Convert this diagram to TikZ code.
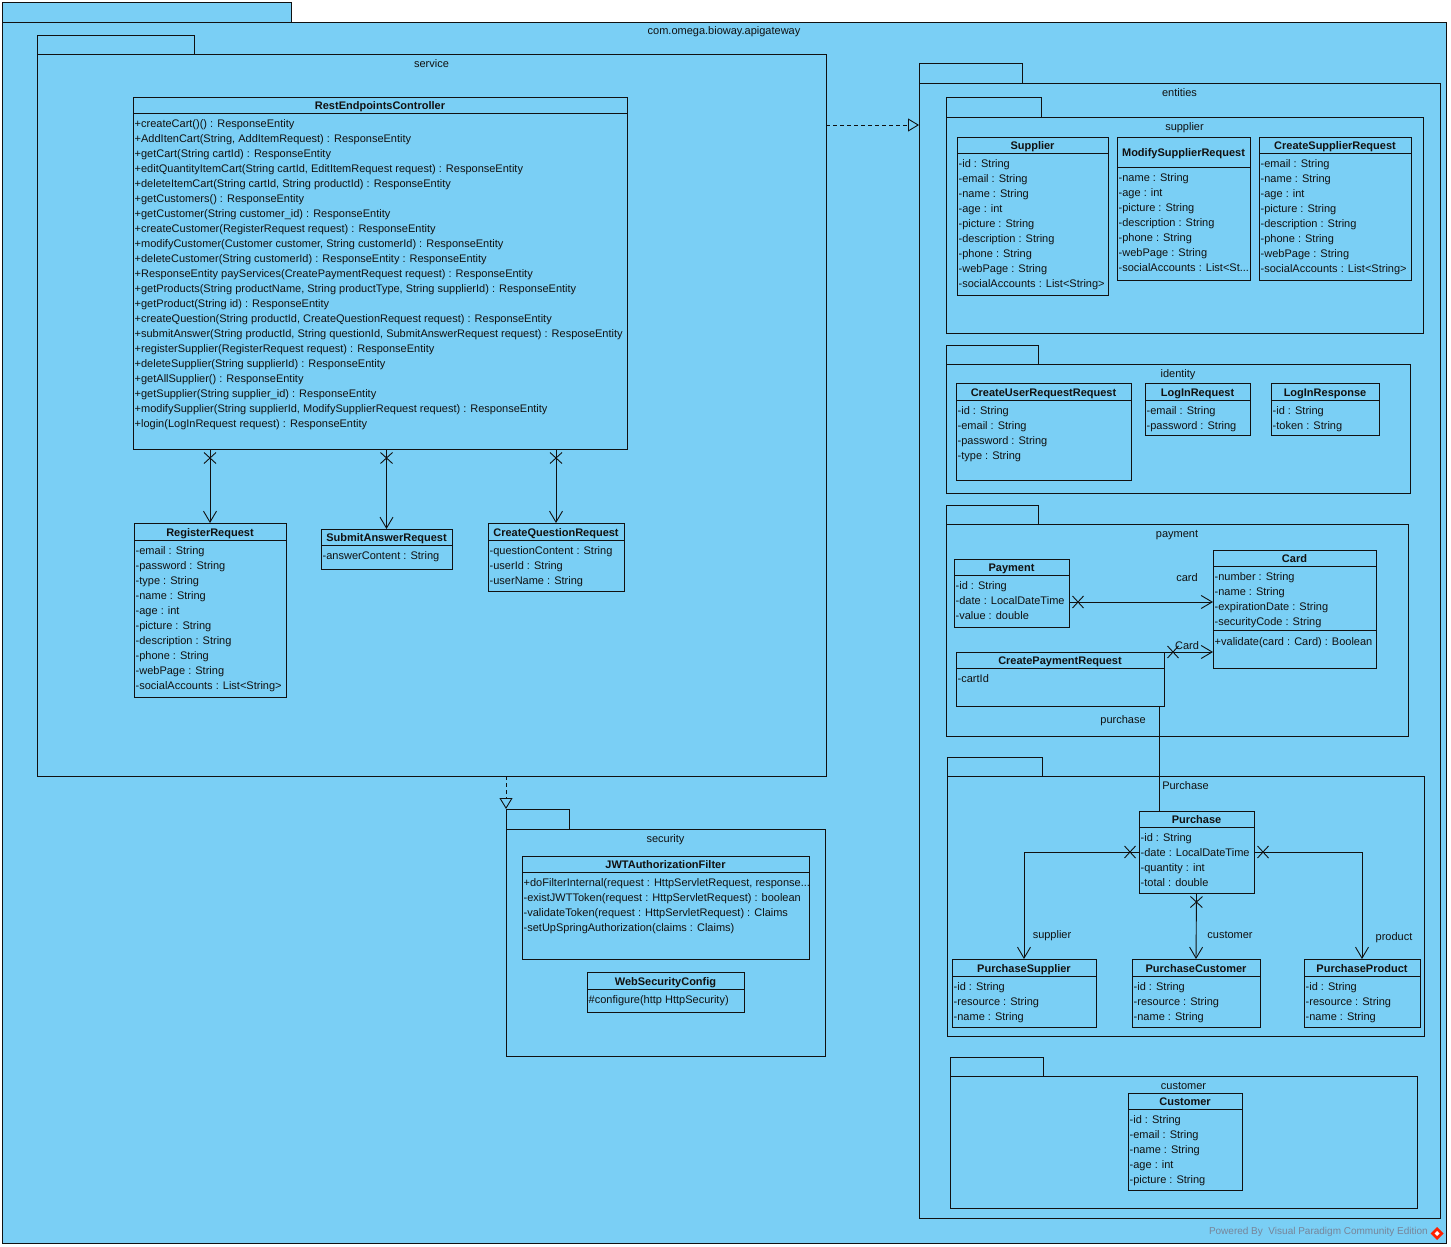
\documentclass[tikz,border=0pt]{standalone}
\usepackage{fontspec}
\setmainfont{Liberation Sans}
\usetikzlibrary{arrows.meta,fit,decorations.markings}

\definecolor{pkgblue}{RGB}{122,207,245}
\definecolor{ink}{RGB}{17,17,17}
\definecolor{footgray}{RGB}{120,132,152}

% three full stops, kept inside a macro so \foreach does not read them as a range
\newcommand{\tdots}{...}

\tikzset{
  base/.style={draw=ink, line width=0.9pt},
  pkgshape/.style={base, fill=pkgblue, inner sep=0pt, outer sep=0pt},
  classshape/.style={base, fill=pkgblue, inner sep=0pt, outer sep=0pt},
  txt/.style={inner sep=0pt, text=ink, font=\fontsize{11}{13}\selectfont},
  ttl/.style={inner sep=0pt, text=ink, font=\fontsize{11}{13}\selectfont\bfseries},
  assoc/.style={base, -{Straight Barb[length=11pt,width=13pt,line width=0.9pt]},
    postaction={decorate},
    decoration={markings, mark=at position 9pt with
      {\draw[ink, line width=0.9pt, -] (-5.5pt,-6pt) -- (5.5pt,6pt) (-5.5pt,6pt) -- (5.5pt,-6pt);}}},
  dep/.style={base, dash pattern=on 4pt off 3pt,
    -{Triangle[open, length=11pt, width=13pt, line width=0.9pt]}},
  link/.style={base},
}

% class box: name, x1, y1, x2, y2, y of header rule, title, compartment lines
\newcommand{\umlclass}[8]{%
  \node[classshape, fit={(#2,#3)(#4,#5)}] (#1) {};
  \draw[base] (#2,#6) -- (#4,#6);
  \node[ttl, anchor=base] (#1-title) at ({(#2+#4)/2},{(#3+#6)/2+4.5}) {#7};
  \foreach \attrline [count=\k from 0] in {#8} {
    \node[txt, anchor=base west] at ({#2+1.5},{#6+14.7+15*\k}) {\attrline};
  }
}

% package: name, x1, tab top, tab right, body top, x2, y2, label
\newcommand{\umlpkg}[8]{%
  \node[pkgshape, fit={(#2,#3)(#4,#5)}] (#1tab) {};
  \node[pkgshape, fit={(#2,#5)(#6,#7)}] (#1) {};
  \node[txt, anchor=base] (#1-label) at ({(#2+#6)/2},{#5+13}) {#8};
}

\begin{document}
\begin{tikzpicture}[x=1pt, y=-1pt]
\useasboundingbox (0,0) rectangle (1451,1247);
\fill[white] (0,0) rectangle (1451,1247);

% ---------- packages ----------
\umlpkg{root}{2}{2}{291}{22}{1446}{1243}{com.omega.bioway.apigateway}
\umlpkg{svc}{37}{35}{194}{54}{826}{776}{service}
\umlpkg{sec}{506}{809}{569}{829}{825}{1056}{security}
\umlpkg{ent}{919}{63}{1022}{83}{1440}{1218}{entities}
\umlpkg{psup}{946}{97}{1041}{117}{1423}{333}{supplier}
\umlpkg{pid}{946}{345}{1038}{364}{1410}{493}{identity}
\umlpkg{ppay}{946}{505}{1038}{524}{1408}{736}{payment}
\umlpkg{ppur}{947}{757}{1042}{776}{1424}{1036}{Purchase}
\umlpkg{pcus}{950}{1057}{1043}{1076}{1417}{1208}{customer}

% ---------- service ----------
\umlclass{rec}{133}{97}{627}{449}{113}{RestEndpointsController}{
  {+createCart()() : ResponseEntity},
  {+AddItenCart(String, AddItemRequest) : ResponseEntity},
  {+getCart(String cartId) : ResponseEntity},
  {+editQuantityItemCart(String cartId, EditItemRequest request) : ResponseEntity},
  {+deleteItemCart(String cartId, String productId) : ResponseEntity},
  {+getCustomers() : ResponseEntity},
  {+getCustomer(String customer\_id) : ResponseEntity},
  {+createCustomer(RegisterRequest request) : ResponseEntity},
  {+modifyCustomer(Customer customer, String customerId) : ResponseEntity},
  {+deleteCustomer(String customerId) : ResponseEntity : ResponseEntity},
  {+ResponseEntity payServices(CreatePaymentRequest request) : ResponseEntity},
  {+getProducts(String productName, String productType, String supplierId) : ResponseEntity},
  {+getProduct(String id) : ResponseEntity},
  {+createQuestion(String productId, CreateQuestionRequest request) : ResponseEntity},
  {+submitAnswer(String productId, String questionId, SubmitAnswerRequest request) : ResposeEntity},
  {+registerSupplier(RegisterRequest request) : ResponseEntity},
  {+deleteSupplier(String supplierId) : ResponseEntity},
  {+getAllSupplier() : ResponseEntity},
  {+getSupplier(String supplier\_id) : ResponseEntity},
  {+modifySupplier(String supplierId, ModifySupplierRequest request) : ResponseEntity},
  {+login(LogInRequest request) : ResponseEntity}}

\umlclass{reg}{134}{523}{286}{697}{540}{RegisterRequest}{
  {-email : String},{-password : String},{-type : String},{-name : String},
  {-age : int},{-picture : String},{-description : String},{-phone : String},
  {-webPage : String},{-socialAccounts : List<String>}}
\umlclass{sar}{321}{529}{452}{569}{545}{SubmitAnswerRequest}{
  {-answerContent : String}}
\umlclass{cqr}{488}{523}{624}{591}{540}{CreateQuestionRequest}{
  {-questionContent : String},{-userId : String},{-userName : String}}

% ---------- security ----------
\umlclass{jwt}{522}{856}{809}{959}{872}{JWTAuthorizationFilter}{
  {+doFilterInternal(request : HttpServletRequest, response\tdots},
  {-existJWTToken(request : HttpServletRequest) : boolean},
  {-validateToken(request : HttpServletRequest) : Claims},
  {-setUpSpringAuthorization(claims : Claims)}}
\umlclass{wsc}{587}{972}{744}{1012}{989}{WebSecurityConfig}{
  {\#configure(http HttpSecurity)}}

% ---------- entities / supplier ----------
\umlclass{sup}{957}{137}{1108}{295}{153}{Supplier}{
  {-id : String},{-email : String},{-name : String},{-age : int},
  {-picture : String},{-description : String},{-phone : String},
  {-webPage : String},{-socialAccounts : List<String>}}
\umlclass{msr}{1117}{137}{1250}{280}{167}{ModifySupplierRequest}{
  {-name : String},{-age : int},{-picture : String},{-description : String},
  {-phone : String},{-webPage : String},{-socialAccounts : List<St\tdots}}
\umlclass{csr}{1259}{137}{1411}{280}{153}{CreateSupplierRequest}{
  {-email : String},{-name : String},{-age : int},{-picture : String},
  {-description : String},{-phone : String},{-webPage : String},
  {-socialAccounts : List<String>}}

% ---------- entities / identity ----------
\umlclass{cur}{956}{383}{1131}{480}{400}{CreateUserRequestRequest}{
  {-id : String},{-email : String},{-password : String},{-type : String}}
\umlclass{lir}{1145}{383}{1250}{435}{400}{LogInRequest}{
  {-email : String},{-password : String}}
\umlclass{lirs}{1271}{383}{1379}{435}{400}{LogInResponse}{
  {-id : String},{-token : String}}

% ---------- entities / payment ----------
\umlclass{pay}{954}{559}{1069}{627}{575}{Payment}{
  {-id : String},{-date : LocalDateTime},{-value : double}}
\umlclass{card}{1213}{550}{1376}{668}{566}{Card}{
  {-number : String},{-name : String},{-expirationDate : String},
  {-securityCode : String}}
\draw[base] (card.west |- 0,630) -- (card.east |- 0,630);
\node[txt, anchor=base west] (card-op) at (1214.5,645.5) {+validate(card : Card) : Boolean};
\umlclass{cpr}{956}{652}{1164}{706}{668}{CreatePaymentRequest}{
  {-cartId}}

% ---------- entities / Purchase ----------
\umlclass{pur}{1139}{811}{1254}{893}{827}{Purchase}{
  {-id : String},{-date : LocalDateTime},{-quantity : int},{-total : double}}
\umlclass{psu}{952}{959}{1096}{1027}{976}{PurchaseSupplier}{
  {-id : String},{-resource : String},{-name : String}}
\umlclass{pcu}{1132}{959}{1260}{1027}{976}{PurchaseCustomer}{
  {-id : String},{-resource : String},{-name : String}}
\umlclass{ppr}{1304}{959}{1420}{1027}{976}{PurchaseProduct}{
  {-id : String},{-resource : String},{-name : String}}

% ---------- entities / customer ----------
\umlclass{cus}{1128}{1093}{1242}{1190}{1109}{Customer}{
  {-id : String},{-email : String},{-name : String},{-age : int},
  {-picture : String}}

% ---------- dependencies ----------
\coordinate (depy) at (0,125);
\draw[dep] (svc.east |- depy) -- (ent.west |- depy);
\draw[dep] (sectab.north west |- svc.south) -- (sectab.north west);

% ---------- associations ----------
\draw[assoc] (rec.south -| reg.north) -- (reg.north);
\draw[assoc] (rec.south -| sar.north) -- (sar.north);
\draw[assoc] (rec.south -| cqr.north) -- (cqr.north);

\coordinate (payout) at ([yshift=-9pt]pay.east);
\draw[assoc] (payout) -- (payout -| card.west);
\draw[assoc] (cpr.north east) -- (cpr.north east -| card.west);
\coordinate (cprout) at ([xshift=-5pt]cpr.south east);
\draw[link] (cprout) -- (cprout |- pur.north);

\draw[assoc] (pur.west) -| (psu.north);
\draw[assoc] (pur.south) -- (pcu.north);
\draw[assoc] (pur.east) -| (ppr.north);

% ---------- role names ----------
\node[txt, anchor=base] (r-card) at (1187,581) {card};
\node[txt, anchor=base] (r-Card) at (1187,649) {Card};
\node[txt, anchor=base] (r-purchase) at (1123,723) {purchase};
\node[txt, anchor=base] (r-supplier) at (1052,938) {supplier};
\node[txt, anchor=base] (r-customer) at (1230,938) {customer};
\node[txt, anchor=base] (r-product) at (1394,940) {product};

% ---------- footer ----------
\node[inner sep=0pt, anchor=base east, text=footgray,
      font=\fontsize{10}{12}\selectfont] (footer) at (1428,1234)
      {Powered By\ \ Visual Paradigm Community Edition};
\fill[red!75!orange] (1437,1227) -- (1443.5,1233.5) -- (1437,1240) -- (1430.5,1233.5) -- cycle;
\fill[white] (1437,1231) -- (1439.5,1233.5) -- (1437,1236) -- (1434.5,1233.5) -- cycle;
\end{tikzpicture}
\end{document}
